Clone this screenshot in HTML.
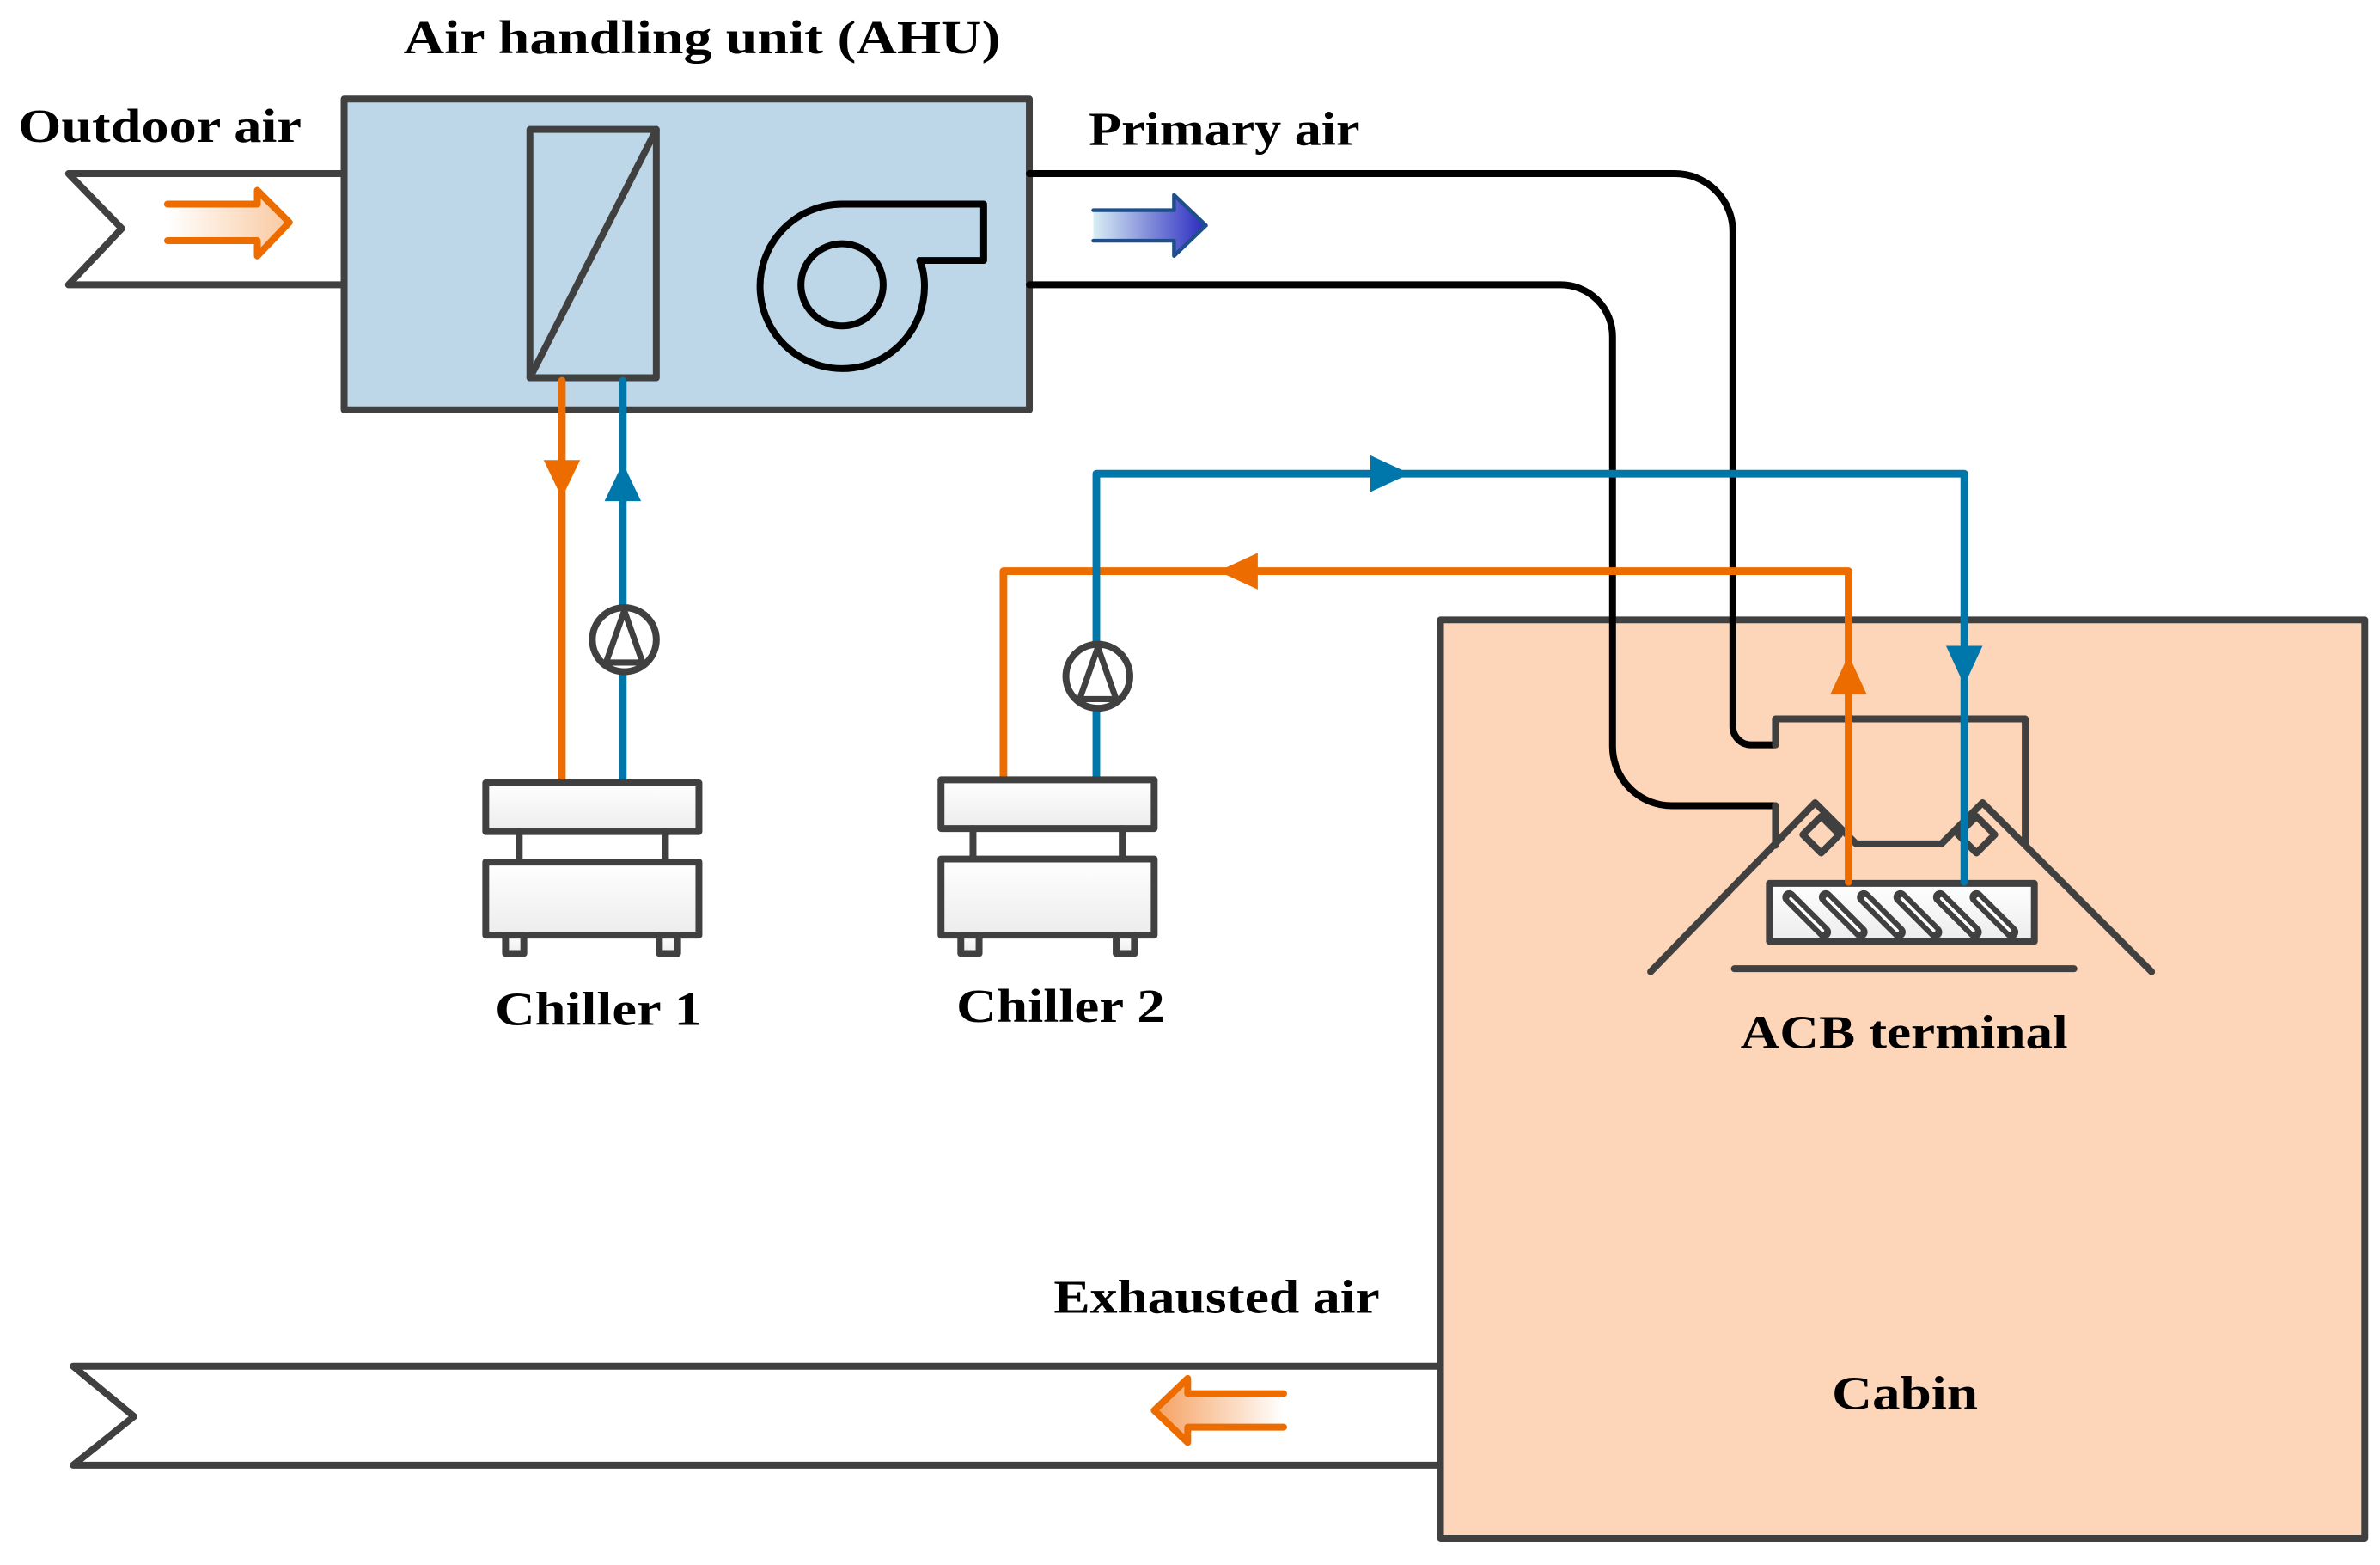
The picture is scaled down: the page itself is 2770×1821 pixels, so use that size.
<!DOCTYPE html>
<html><head><meta charset="utf-8"><style>html,body{margin:0;padding:0;background:#fff}svg{display:block}text{font-family:"Liberation Serif",serif;font-weight:bold;font-size:31px;fill:#000}</style></head>
<body>
<svg width="2770" height="1821" viewBox="0 0 1563 1027.5" xmlns="http://www.w3.org/2000/svg">
<defs>
<linearGradient id="og" x1="0" x2="1" y1="0" y2="0"><stop offset="0" stop-color="#fff"/><stop offset="1" stop-color="#f9c9a0"/></linearGradient>
<linearGradient id="og2" x1="1" x2="0" y1="0" y2="0"><stop offset="0" stop-color="#fff"/><stop offset="1" stop-color="#f5a060"/></linearGradient>
<linearGradient id="bg" x1="0" x2="1" y1="0" y2="0"><stop offset="0" stop-color="#d8eef4"/><stop offset="1" stop-color="#2a2ac0"/></linearGradient>
<linearGradient id="wg" x1="0" x2="0" y1="0" y2="1"><stop offset="0" stop-color="#fff"/><stop offset="1" stop-color="#ececec"/></linearGradient>
</defs>
<g stroke-linejoin="round" stroke-linecap="round">
<rect x="946" y="407" width="607" height="603" fill="#fdd5b8" stroke="#404040" stroke-width="4.5"/>
<path d="M226,114 H45 L80,150 L45,187 H226" fill="none" stroke="#404040" stroke-width="4.5"/>
<path d="M110,134 H169 V125 L190,146 L169,168 V158 H110 Z" fill="url(#og)" stroke="none"/>
<path d="M110,134 H169 V125 L190,146 L169,168 V158 H110" fill="none" stroke="#ec6c00" stroke-width="4.5"/>
<rect x="226" y="65" width="450" height="204" fill="#bdd7e8" stroke="#404040" stroke-width="4.5"/>
<rect x="348" y="85" width="83" height="163" fill="none" stroke="#404040" stroke-width="4.5"/>
<line x1="348" y1="248" x2="431" y2="85" stroke="#404040" stroke-width="4.5"/>
<path d="M646,134 H553 A54,54 0 1 0 606,177 L604,171 H646 Z" fill="none" stroke="#000" stroke-width="4.5"/>
<ellipse cx="553" cy="187" rx="27" ry="27" fill="none" stroke="#000" stroke-width="4.5"/>
<path d="M676,114 H1100 A38,38 0 0 1 1138,152 V477 A12,12 0 0 0 1150,489 H1166" fill="none" stroke="#000" stroke-width="4.5"/>
<path d="M676,187 H1025 A34,34 0 0 1 1059,221 V490 A39,39 0 0 0 1098,529 H1166" fill="none" stroke="#000" stroke-width="4.5"/>
<path d="M718,138 H771 V128 L792,148 L771,168 V158 H718 Z" fill="url(#bg)"/>
<path d="M718,138 H771 V128 L792,148 L771,168 V158 H718" fill="none" stroke="#1f4e8c" stroke-width="2.5"/>
<path d="M1166,489 V472 H1330 V555" fill="none" stroke="#404040" stroke-width="4.5"/>
<path d="M1166,529 V555" fill="none" stroke="#404040" stroke-width="4.5"/>
<path d="M1084,638 L1192,527 L1219,554 H1275 L1302,527 L1413,638" fill="none" stroke="#404040" stroke-width="4.5"/>
<path d="M1196,536 L1208,548 L1196,560 L1184,548 Z" fill="none" stroke="#404040" stroke-width="4.5"/>
<path d="M1298,536 L1310,548 L1298,560 L1286,548 Z" fill="none" stroke="#404040" stroke-width="4.5"/>
<rect x="1162" y="580" width="174" height="38" fill="url(#wg)" stroke="#404040" stroke-width="4.5"/>
<g stroke="#404040" stroke-width="9">
<line x1="1175" y1="589" x2="1198" y2="612"/><line x1="1199" y1="589" x2="1222" y2="612"/><line x1="1224" y1="589" x2="1247" y2="612"/><line x1="1248" y1="589" x2="1271" y2="612"/><line x1="1274" y1="589" x2="1297" y2="612"/><line x1="1298" y1="589" x2="1321" y2="612"/>
</g>
<g stroke="#fff" stroke-width="2">
<line x1="1176" y1="590" x2="1197" y2="611"/><line x1="1200" y1="590" x2="1221" y2="611"/><line x1="1225" y1="590" x2="1246" y2="611"/><line x1="1249" y1="590" x2="1270" y2="611"/><line x1="1275" y1="590" x2="1296" y2="611"/><line x1="1299" y1="590" x2="1320" y2="611"/>
</g>
<line x1="1139" y1="636" x2="1362" y2="636" stroke="#404040" stroke-width="4.5"/>
<line x1="369" y1="250" x2="369" y2="513" stroke="#ec6c00" stroke-width="5"/>
<path d="M357,302 H381 L369,327 Z" fill="#ec6c00"/>
<line x1="409" y1="250" x2="409" y2="513" stroke="#0077aa" stroke-width="5"/>
<path d="M397,329 H421 L409,304 Z" fill="#0077aa"/>
<ellipse cx="410" cy="420" rx="21" ry="21" fill="#fff" stroke="#404040" stroke-width="4.5"/>
<path d="M410,401 L398,435 H422 Z" fill="none" stroke="#404040" stroke-width="4"/>
<path d="M659,513 V375 H1214 V579" fill="none" stroke="#ec6c00" stroke-width="5"/>
<path d="M826,363 V387 L800,375 Z" fill="#ec6c00"/>
<path d="M1202,456 H1226 L1214,430 Z" fill="#ec6c00"/>
<path d="M720,513 V311 H1290 V579" fill="none" stroke="#0077aa" stroke-width="5"/>
<path d="M900,299 V323 L926,311 Z" fill="#0077aa"/>
<path d="M1278,424 H1302 L1290,450 Z" fill="#0077aa"/>
<ellipse cx="721" cy="444" rx="21" ry="21" fill="#fff" stroke="#404040" stroke-width="4.5"/>
<path d="M721,425 L709,459 H733 Z" fill="none" stroke="#404040" stroke-width="4"/>
<g fill="url(#wg)" stroke="#404040" stroke-width="4.5">
<rect x="319" y="514" width="140" height="32"/><rect x="319" y="566" width="140" height="48"/>
<rect x="332" y="614" width="12" height="12"/><rect x="433" y="614" width="12" height="12"/>
<rect x="618" y="512" width="140" height="32"/><rect x="618" y="564" width="140" height="50"/>
<rect x="631" y="614" width="12" height="12"/><rect x="733" y="614" width="12" height="12"/>
</g>
<g stroke="#404040" stroke-width="4.5"><line x1="341" y1="546" x2="341" y2="566"/><line x1="437" y1="546" x2="437" y2="566"/><line x1="639" y1="544" x2="639" y2="564"/><line x1="737" y1="544" x2="737" y2="564"/></g>
<path d="M946,897 H48 L88,930 L48,962 H946" fill="none" stroke="#404040" stroke-width="4.5"/>
<path d="M843,915 H780 V905 L758,926 L780,947 V937 H843 Z" fill="url(#og2)"/>
<path d="M843,915 H780 V905 L758,926 L780,947 V937 H843" fill="none" stroke="#ec6c00" stroke-width="4.5"/>
</g>
<text x="265" y="35" textLength="392" lengthAdjust="spacingAndGlyphs">Air handling unit (AHU)</text>
<text x="12" y="93" textLength="186" lengthAdjust="spacingAndGlyphs">Outdoor air</text>
<text x="715" y="95" textLength="178" lengthAdjust="spacingAndGlyphs">Primary air</text>
<text x="325" y="673" textLength="136" lengthAdjust="spacingAndGlyphs">Chiller 1</text>
<text x="628" y="671" textLength="137" lengthAdjust="spacingAndGlyphs">Chiller 2</text>
<text x="1143" y="688" textLength="215" lengthAdjust="spacingAndGlyphs">ACB terminal</text>
<text x="692" y="862" textLength="214" lengthAdjust="spacingAndGlyphs">Exhausted air</text>
<text x="1203" y="925" textLength="96" lengthAdjust="spacingAndGlyphs">Cabin</text>
</svg>
</body></html>
